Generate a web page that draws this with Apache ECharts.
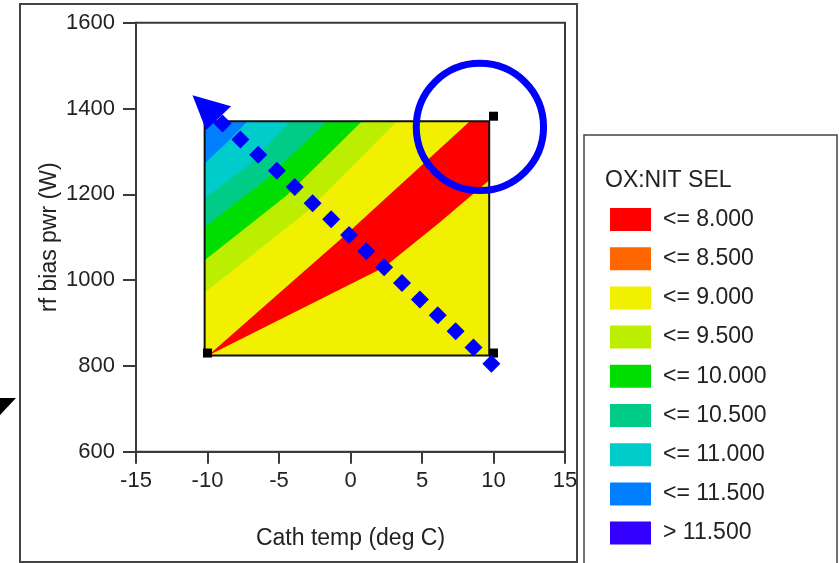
<!DOCTYPE html>
<html>
<head>
<meta charset="utf-8">
<title>OX:NIT SEL</title>
<script src="https://cdn.jsdelivr.net/npm/echarts@6/dist/echarts.min.js"></script>
<style>
  html, body { margin: 0; padding: 0; background: #fff; }
  #chart { width: 839px; height: 563px; }
</style>
</head>
<body>
<div id="chart"></div>
<script>
// axes
const xMin = -15, xMax = 15, xStep = 5;
const yMin = 600, yMax = 1600, yStep = 200;

// legend levels, top to bottom
const levelNames = ['<= 8.000', '<= 8.500', '<= 9.000', '<= 9.500', '<= 10.000', '<= 10.500', '<= 11.000', '<= 11.500', '> 11.500'];
const levelColors = ['#ff0000', '#ff6600', '#f0f000', '#bbee00', '#00dd00', '#00cc88', '#00cccc', '#0080ff', '#3300ff'];

// contour regions (cath temp, bias pwr)
const region80 = [[-9.95, 824], [-0.2, 1110], [8.35, 1370], [9.7, 1370], [9.7, 1233], [6.25, 1135], [2.35, 1030], [-3.5, 932]];
const region85 = [];
const region90 = [[-10.2, 824], [9.7, 824], [9.7, 1370], [-10.2, 1370]];
const region95 = [[-10.2, 971], [-3.1, 1158], [3.25, 1370], [-10.2, 1370]];
const region100 = [[-10.2, 1046], [-4.45, 1198], [0.8, 1370], [-10.2, 1370]];
const region105 = [[-10.2, 1123], [-5.7, 1240], [-1.65, 1370], [-10.2, 1370]];
const region110 = [[-10.2, 1191], [-7.05, 1270], [-4.25, 1370], [-10.2, 1370]];
const region115 = [[-10.2, 1272], [-8.7, 1319], [-7.2, 1370], [-10.2, 1370]];
const regionOver = [];
const regions = [region80, region85, region90, region95, region100, region105, region110, region115, regionOver];

// design points (black squares)
const designX = [-10, 10, 10];
const designY = [830, 830, 1382];

// dotted path of diamonds and its arrow head
const pathX = [-8.95, -7.7, -6.45, -5.15, -3.9, -2.65, -1.35, -0.1, 1.1, 2.35, 3.6, 4.85, 6.1, 7.35, 8.6, 9.85];
const pathY = [1365, 1328, 1292, 1255, 1217, 1179, 1142, 1105, 1067, 1030, 993, 955, 918, 881, 843, 805];
const arrowHead = [[-11.05, 1431], [-8.35, 1405], [-10.1, 1350]];

// highlight circle
const circleCenter = [9.05, 1357];
const circleRadius = 4.45;

const font = 'Liberation Sans, Arial, sans-serif';
const ink = '#222';
const lineColor = '#3a3a3a';

const chart = echarts.init(document.getElementById('chart'));

function polygonItem(points) {
    return function (params, api) {
        return {
            type: 'polygon',
            shape: { points: points.map(p => api.coord(p)) },
            style: { fill: api.visual('color') }
        };
    };
}

const levelSeries = levelNames.map((name, i) => ({
    name: name,
    type: 'custom',
    coordinateSystem: 'cartesian2d',
    z: i === 0 ? 10 : 2 + i,
    itemStyle: { color: levelColors[i] },
    renderItem: polygonItem(regions[i]),
    data: regions[i].length ? [regions[i][0]] : []
}));

const option = {
    animation: false,
    backgroundColor: '#fff',
    title: {
        text: 'OX:NIT SEL',
        left: 600,
        top: 164,
        textStyle: { fontSize: 23, fontWeight: 'normal', color: ink, fontFamily: font }
    },
    legend: {
        data: levelNames,
        orient: 'vertical',
        left: 605,
        top: 203,
        icon: 'rect',
        itemWidth: 41,
        itemHeight: 23,
        itemGap: 16.2,
        selectedMode: false,
        textStyle: { fontSize: 23, color: ink, fontFamily: font, padding: [0, 0, 0, 7] }
    },
    grid: {
        left: 136,
        right: 274,
        top: 22.7,
        bottom: 111.3,
        show: true,
        backgroundColor: 'transparent',
        borderColor: lineColor,
        borderWidth: 2
    },
    xAxis: {
        type: 'value',
        min: xMin,
        max: xMax,
        interval: xStep,
        name: 'Cath temp (deg C)',
        nameLocation: 'middle',
        nameGap: 75,
        nameTextStyle: { fontSize: 23, color: ink, fontFamily: font },
        axisLine: { onZero: false, lineStyle: { color: lineColor, width: 2 } },
        axisTick: { length: 12, lineStyle: { color: lineColor, width: 2 } },
        axisLabel: { fontSize: 22, color: ink, fontFamily: font, margin: 18 },
        splitLine: { show: false }
    },
    yAxis: {
        type: 'value',
        min: yMin,
        max: yMax,
        interval: yStep,
        name: 'rf bias pwr (W)',
        nameLocation: 'middle',
        nameGap: 75,
        nameMoveOverlap: false,
        nameTextStyle: { fontSize: 23, color: ink, fontFamily: font },
        axisLine: { onZero: false, lineStyle: { color: lineColor, width: 2 } },
        axisTick: { length: 13, lineStyle: { color: lineColor, width: 2 } },
        axisLabel: { fontSize: 22, color: ink, fontFamily: font, margin: 21, formatter: v => String(v) },
        splitLine: { show: false }
    },
    series: levelSeries.concat([
        {
            // outline of the design space
            type: 'custom',
            z: 11,
            renderItem: function (params, api) {
                return {
                    type: 'polygon',
                    shape: { points: region90.map(p => api.coord(p)) },
                    style: { fill: 'none', stroke: '#111', lineWidth: 2 }
                };
            },
            data: [region90[0]]
        },
        {
            type: 'scatter',
            z: 12,
            symbol: 'rect',
            symbolSize: 9,
            itemStyle: { color: '#000', opacity: 1 },
            data: designX.map((x, i) => [x, designY[i]])
        },
        {
            type: 'scatter',
            z: 13,
            symbol: 'diamond',
            symbolSize: 18,
            itemStyle: { color: '#0000ff', opacity: 1 },
            data: pathX.map((x, i) => [x, pathY[i]])
        },
        {
            type: 'custom',
            z: 14,
            renderItem: function (params, api) {
                return {
                    type: 'polygon',
                    shape: { points: arrowHead.map(p => api.coord(p)) },
                    style: { fill: '#0000ff' }
                };
            },
            data: [arrowHead[0]]
        },
        {
            type: 'custom',
            z: 15,
            renderItem: function (params, api) {
                const c = api.coord(circleCenter);
                const r = api.size([circleRadius, 0])[0];
                return {
                    type: 'circle',
                    shape: { cx: c[0], cy: c[1], r: r },
                    style: { fill: 'none', stroke: '#0000ff', lineWidth: 7 }
                };
            },
            data: [circleCenter]
        }
    ]),
    graphic: [
        {
            type: 'rect',
            shape: { x: 20, y: 4, width: 557, height: 558 },
            style: { fill: 'none', stroke: '#444', lineWidth: 2 },
            silent: true
        },
        {
            type: 'rect',
            shape: { x: 584, y: 135, width: 253, height: 440 },
            style: { fill: 'none', stroke: '#444', lineWidth: 1.5 },
            silent: true
        },
        {
            type: 'polygon',
            shape: { points: [[0, 398], [16, 398], [0, 415]] },
            style: { fill: '#000' },
            silent: true
        }
    ]
};

chart.setOption(option);
</script>
</body>
</html>
